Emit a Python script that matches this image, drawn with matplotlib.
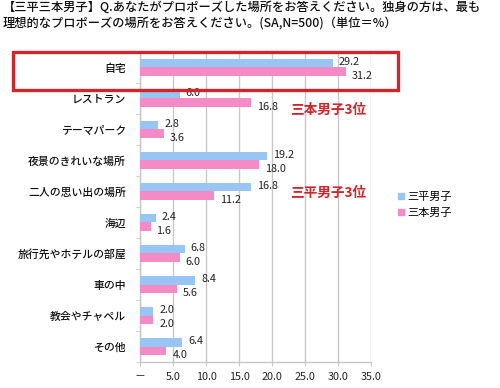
import matplotlib
matplotlib.use("Agg")
import matplotlib.pyplot as plt
from matplotlib.patches import Rectangle, Patch
import numpy as np

plt.rcParams['font.family'] = ['Noto Sans CJK JP', 'DejaVu Sans']

categories = ["自宅", "レストラン", "テーマパーク", "夜景のきれいな場所", "二人の思い出の場所",
              "海辺", "旅行先やホテルの部屋", "車の中", "教会やチャペル", "その他"]
sanpei = [29.2, 6.0, 2.8, 19.2, 16.8, 2.4, 6.8, 8.4, 2.0, 6.4]
sanbon = [31.2, 16.8, 3.6, 18.0, 11.2, 1.6, 6.0, 5.6, 2.0, 4.0]
series_names = ["三平男子", "三本男子"]
xticks = [0, 5, 10, 15, 20, 25, 30, 35]
xticklabels = ["－", "5.0", "10.0", "15.0", "20.0", "25.0", "30.0", "35.0"]
title = ("【三平三本男子】Q.あなたがプロポーズした場所をお答えください。独身の方は、最も\n"
         "理想的なプロポーズの場所をお答えください。(SA,N=500)（単位＝%）")

blue = "#99C5F5"
pink = "#F48BC6"
red = "#D0252A"
grid = "#C8C8C8"

fig = plt.figure(figsize=(5, 3.88), dpi=100)
ax = fig.add_axes([0.28, 0.067, 0.462, 0.799])

n = len(categories)
y = np.arange(n)
h = 0.29
ax.barh(y - h / 2, sanpei, height=h, color=blue, zorder=3)
ax.barh(y + h / 2, sanbon, height=h, color=pink, zorder=3)

for yi, v in zip(y, sanpei):
    ax.text(v + 0.9, yi - h / 2 - 0.03, f"{v:.1f}", va="center", ha="left",
            fontsize=7.8, color="#222222", zorder=4)
for yi, v in zip(y, sanbon):
    ax.text(v + 0.9, yi + h / 2 + 0.12, f"{v:.1f}", va="center", ha="left",
            fontsize=7.8, color="#222222", zorder=4)

ax.set_xlim(0, 35)
ax.set_ylim(n - 0.5, -0.5)
ax.set_xticks(xticks)
ax.set_xticklabels(xticklabels, fontsize=7.8, color="#222222")
ax.set_yticks(y)
ax.set_yticklabels(categories, fontsize=7.8, color="#111111", fontweight="medium")
ax.tick_params(axis="y", length=0, pad=10)
ax.set_yticks(np.arange(-0.5, n, 1), minor=True)
ax.tick_params(axis="y", which="minor", length=3, color=grid)
ax.tick_params(axis="x", length=3, color=grid, pad=4)
ax.xaxis.grid(True, color=grid, lw=1, zorder=0)
for s in ["top", "right"]:
    ax.spines[s].set_visible(False)
for s in ["left", "bottom"]:
    ax.spines[s].set_color(grid)
    ax.spines[s].set_linewidth(1)

fig.text(0.006, 0.997, title, ha="left", va="top", fontsize=8.8, color="#111111",
         linespacing=1.35, fontweight="medium")

# red box around first row
fig.patches.append(Rectangle((13 / 500, 1 - 90 / 388), 385 / 500, 38 / 388,
                             transform=fig.transFigure, fill=False,
                             edgecolor=red, lw=2.4))

fig.text(290 / 500, 1 - 110 / 388, "三本男子3位", color=red, fontsize=9.8,
         fontweight="bold", ha="left", va="center")
fig.text(290 / 500, 1 - 193 / 388, "三平男子3位", color=red, fontsize=9.8,
         fontweight="bold", ha="left", va="center")

handles = [Patch(color=blue), Patch(color=pink)]
fig.legend(handles, series_names, loc="upper left",
           bbox_to_anchor=(398 / 500, 1 - 192 / 388), frameon=False,
           fontsize=8, handlelength=0.5, handleheight=0.5, handletextpad=0.3,
           labelspacing=0.5, borderaxespad=0, borderpad=0)

fig.savefig("out.png", dpi=100)
